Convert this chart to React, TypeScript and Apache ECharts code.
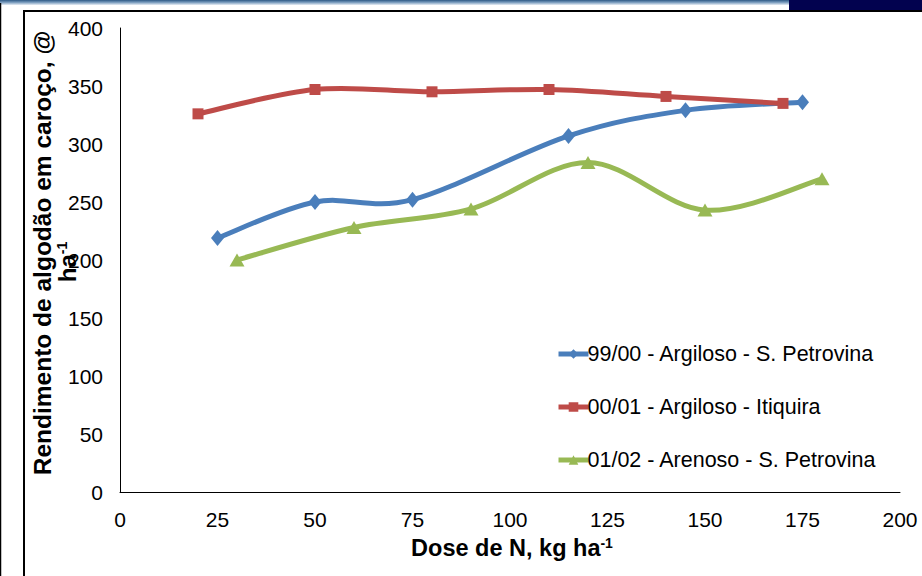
import React, { useEffect, useRef } from "react";
import * as echarts from "echarts";

// Nitrogen dose (kg/ha) and seed-cotton yield (@/ha) per season
const doseA = [25, 50, 75, 115, 145, 175];
const yieldA = [219, 250, 252, 307, 329, 336];
const doseB = [20, 50, 80, 110, 140, 170];
const yieldB = [326, 347, 345, 347, 341, 335];
const doseC = [30, 60, 90, 120, 150, 180];
const yieldC = [200, 228, 244, 284, 243, 270];

const seriesNames = [
  "99/00 - Argiloso - S. Petrovina",
  "00/01 - Argiloso - Itiquira",
  "01/02 - Arenoso - S. Petrovina",
];
const seriesColors = ["#4A7EBB", "#BE4B48", "#98B954"];

const pairs = (xs: number[], ys: number[]) => xs.map((x, i) => [x, ys[i]]);

const FONT = "'Liberation Sans', Arial, sans-serif";

// Catmull-Rom style smoothed segment between point i and i+1 (spreadsheet-like smoothing)
const curveSeries = (xs: number[], ys: number[], color: string, id: string) => ({
  type: "custom",
  id,
  name: id,
  data: pairs(xs, ys),
  encode: { x: 0, y: 1 },
  z: 2,
  silent: true,
  renderItem: (params: any, api: any) => {
    const i = params.dataIndex;
    const n = xs.length;
    if (i >= n - 1) return null;
    const pt = (k: number) => {
      const j = Math.max(0, Math.min(n - 1, k));
      return api.coord([xs[j], ys[j]]);
    };
    const p0 = pt(i - 1);
    const p1 = pt(i);
    const p2 = pt(i + 1);
    const p3 = pt(i + 2);
    const t = 1 / 6;
    return {
      type: "bezierCurve",
      shape: {
        x1: p1[0],
        y1: p1[1],
        cpx1: p1[0] + (p2[0] - p0[0]) * t,
        cpy1: p1[1] + (p2[1] - p0[1]) * t,
        cpx2: p2[0] - (p3[0] - p1[0]) * t,
        cpy2: p2[1] - (p3[1] - p1[1]) * t,
        x2: p2[0],
        y2: p2[1],
      },
      style: { stroke: color, lineWidth: 5, fill: "none", lineCap: "round" },
    };
  },
});

export default function App() {
  const ref = useRef<HTMLDivElement>(null);

  useEffect(() => {
    if (!ref.current) return;
    const chart = echarts.init(ref.current, null, { renderer: "svg" });

    const markerSeries = (
      name: string,
      data: number[][],
      color: string,
      symbol: string,
      symbolSize: number | number[]
    ) => ({
      type: "line",
      name,
      data,
      symbol,
      symbolSize,
      showSymbol: true,
      lineStyle: { color, width: 5, opacity: 0 },
      itemStyle: { color },
      z: 3,
    });

    chart.setOption({
      animation: false,
      backgroundColor: "#ffffff",
      grid: { left: 120, right: 22, top: 28, bottom: 84, containLabel: false },
      xAxis: {
        type: "value",
        min: 0,
        max: 200,
        interval: 25,
        axisLine: { show: true, lineStyle: { color: "#000", width: 1 } },
        axisTick: { show: false },
        splitLine: { show: false },
        axisLabel: { color: "#000", fontSize: 21, fontFamily: FONT, margin: 17 },
      },
      yAxis: {
        type: "value",
        min: 0,
        max: 400,
        interval: 50,
        axisLine: { show: true, lineStyle: { color: "#000", width: 1 } },
        axisTick: { show: false },
        splitLine: { show: false },
        axisLabel: { color: "#000", fontSize: 21, fontFamily: FONT, margin: 17 },
      },
      legend: {
        orient: "vertical",
        left: 551,
        top: 338,
        itemWidth: 30,
        itemHeight: 12,
        itemGap: 31,
        lineStyle: { width: 5, opacity: 1 },
        textStyle: { color: "#000", fontSize: 21.5, fontFamily: FONT, padding: [0, 0, 0, -6] },
        data: seriesNames,
      },
      series: [
        curveSeries(doseA, yieldA, seriesColors[0], "curveA"),
        curveSeries(doseB, yieldB, seriesColors[1], "curveB"),
        curveSeries(doseC, yieldC, seriesColors[2], "curveC"),
        markerSeries(seriesNames[0], pairs(doseA, yieldA), seriesColors[0], "diamond", [13, 16]),
        markerSeries(seriesNames[1], pairs(doseB, yieldB), seriesColors[1], "rect", 11),
        markerSeries(seriesNames[2], pairs(doseC, yieldC), seriesColors[2], "triangle", [15, 13]),
      ],
      graphic: [
        // top banner strip
        {
          type: "rect",
          shape: { x: 0, y: 0, width: 790, height: 5 },
          style: {
            fill: new echarts.graphic.LinearGradient(0, 0, 0, 1, [
              { offset: 0, color: "#2E5A86" },
              { offset: 0.5, color: "#7E9FC0" },
              { offset: 1, color: "#E8EEF5" },
            ]),
          },
          silent: true,
        },
        {
          type: "rect",
          shape: { x: 789, y: 0, width: 140, height: 10 },
          style: { fill: "#02024F" },
          silent: true,
        },
        // frame lines
        {
          type: "line",
          shape: { x1: 0.5, y1: 3, x2: 0.5, y2: 576 },
          style: { stroke: "#000", lineWidth: 1.5 },
          silent: true,
        },
        {
          type: "rect",
          shape: { x: 24, y: 11, width: 1000, height: 1000 },
          style: { fill: "none", stroke: "#000", lineWidth: 2 },
          silent: true,
        },
        // y axis title (two lines)
        {
          type: "text",
          x: 42,
          y: 253,
          rotation: Math.PI / 2,
          style: {
            text: "Rendimento de algodão em caroço, @",
            font: `bold 24.5px ${FONT}`,
            fill: "#000",
            align: "center",
            verticalAlign: "middle",
          },
          silent: true,
        },
        {
          type: "text",
          x: 67,
          y: 262,
          rotation: Math.PI / 2,
          style: {
            text: "{b|ha}{s|-1}",
            fill: "#000",
            align: "center",
            verticalAlign: "middle",
            rich: {
              b: { font: `bold 24px ${FONT}`, fill: "#000" },
              s: { font: `bold 14px ${FONT}`, fill: "#000", verticalAlign: "top", padding: [0, 0, 10, 0] },
            },
          },
          silent: true,
        },
        // x axis title
        {
          type: "text",
          x: 512,
          y: 548,
          style: {
            text: "{b|Dose de N, kg ha}{s|-1}",
            fill: "#000",
            align: "center",
            verticalAlign: "middle",
            rich: {
              b: { font: `bold 23.5px ${FONT}`, fill: "#000" },
              s: { font: `bold 14px ${FONT}`, fill: "#000", verticalAlign: "top", padding: [0, 0, 10, 0] },
            },
          },
          silent: true,
        },
      ],
    });

    return () => chart.dispose();
  }, []);

  return <div ref={ref} style={{ width: 922, height: 576, position: "absolute", left: 0, top: 0 }} />;
}
